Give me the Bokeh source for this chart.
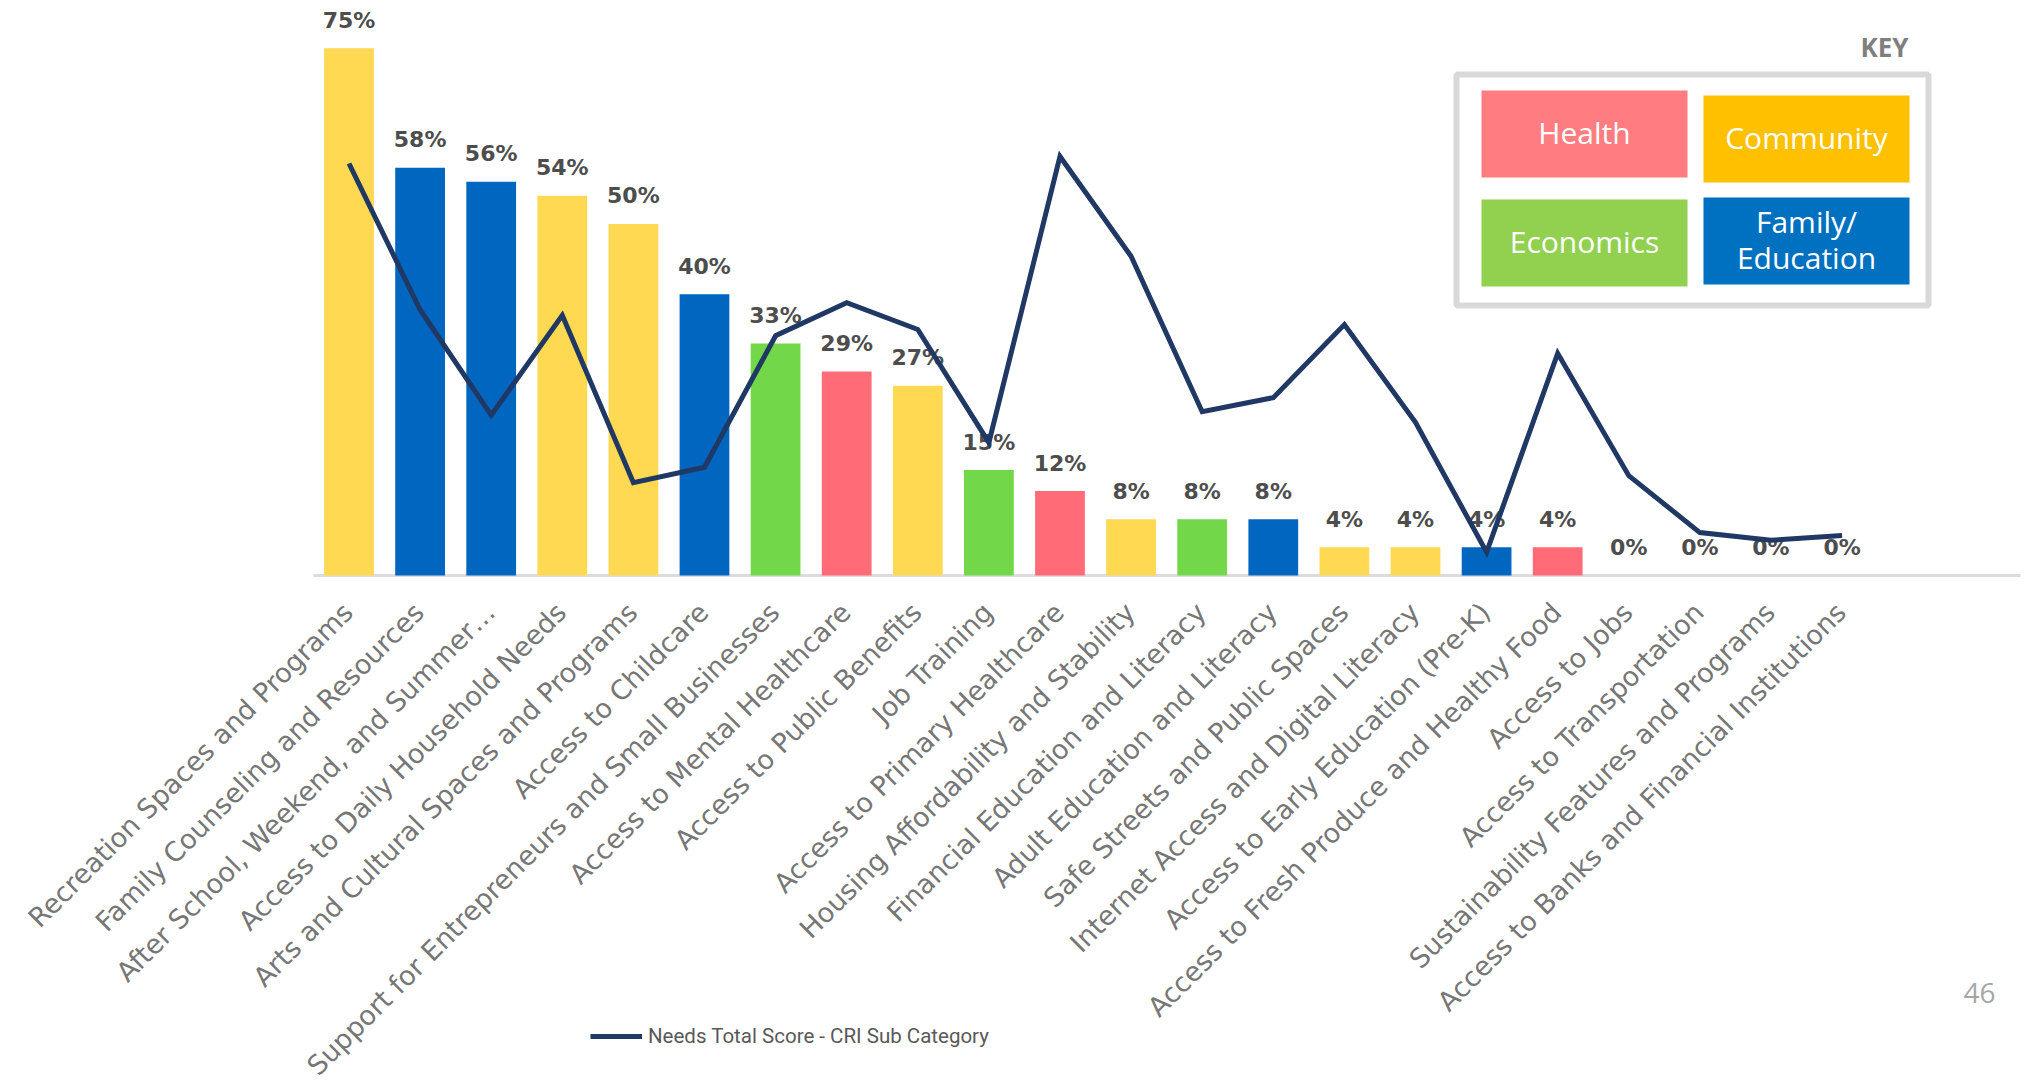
from math import pi
from bokeh.plotting import figure
from bokeh.models import (ColumnDataSource, Range1d, Label, BoxAnnotation,
                          Legend, LegendItem)
from bokeh.core.properties import value
from bokeh.embed import file_html
from bokeh.resources import INLINE

# ---------------- data ----------------
categories = [
    "Recreation Spaces and Programs",
    "Family Counseling and Resources",
    "After School, Weekend, and Summer\u2026",
    "Access to Daily Household Needs",
    "Arts and Cultural Spaces and Programs",
    "Access to Childcare",
    "Support for Entrepreneurs and Small Businesses",
    "Access to Mental Healthcare",
    "Access to Public Benefits",
    "Job Training",
    "Access to Primary Healthcare",
    "Housing Affordability and Stability",
    "Financial Education and Literacy",
    "Adult Education and Literacy",
    "Safe Streets and Public Spaces",
    "Internet Access and Digital Literacy",
    "Access to Early Education (Pre-K)",
    "Access to Fresh Produce and Healthy Food",
    "Access to Jobs",
    "Access to Transportation",
    "Sustainability Features and Programs",
    "Access to Banks and Financial Institutions",
]
groups = [
    "Community", "Family/Education", "Family/Education", "Community",
    "Community", "Family/Education", "Economics", "Health", "Community",
    "Economics", "Health", "Community", "Economics", "Family/Education",
    "Community", "Community", "Family/Education", "Health",
    "Economics", "Community", "Community", "Economics",
]
percent = [75, 58, 56, 54, 50, 40, 33, 29, 27, 15, 12, 8, 8, 8, 4, 4, 4, 4, 0, 0, 0, 0]
# Needs Total Score - CRI Sub Category (expressed on the chart's vertical scale)
needs_score = [58.6, 37.8, 22.8, 37.0, 13.2, 15.4, 34.1, 38.8, 35.0, 18.9, 59.6,
               45.4, 23.3, 25.3, 35.7, 21.8, 3.3, 31.6, 14.2, 6.1, 5.0, 5.7]

key_groups = ["Health", "Community", "Economics", "Family/Education"]
key_labels = {"Health": ["Health"], "Community": ["Community"],
              "Economics": ["Economics"], "Family/Education": ["Family/", "Education"]}
line_legend_label = "Needs Total Score - CRI Sub Category"
page_number = "46"

# ---------------- styles ----------------
bar_colors = {"Community": "#FFD952", "Family/Education": "#0066BF",
              "Economics": "#72D84A", "Health": "#FF6B76"}
key_colors = {"Health": "#FF7C80", "Community": "#FFC000",
              "Economics": "#92D050", "Family/Education": "#0070C0"}

W, H = 2028, 1085
positions = list(range(1, len(categories) + 1))
source = ColumnDataSource(dict(
    x=positions,
    name=categories,
    pct=percent,
    label=[f"{v}%" for v in percent],
    color=[bar_colors[g] for g in groups],
    score=needs_score,
    zero=[0] * len(positions),
))

p = figure(width=W, height=H, output_backend="svg", toolbar_location=None,
           x_range=Range1d(-3.9015, 24.622), y_range=Range1d(-72.55, 81.79),
           x_axis_location=None, y_axis_location=None,
           min_border_left=0, min_border_right=0, min_border_top=0,
           min_border_bottom=0)
p.outline_line_color = None
p.grid.visible = False
p.background_fill_color = "white"
p.border_fill_color = "white"

# category axis baseline
p.segment(x0=[0.5], y0=[0], x1=[24.51], y1=[0], line_color="#dcdcdc", line_width=3)

p.vbar(x="x", top="pct", width=0.7, fill_color="color", line_color=None,
       source=source)
p.text(x="x", y="pct", text="label", source=source, text_align="center",
       text_baseline="middle", y_offset=-28, text_font=value("DejaVu Sans"),
       text_font_style="bold", text_font_size="22px", text_color="#4d4d4d")
# category labels
p.text(x="x", y="zero", text="name", source=source, angle=pi / 4,
       text_align="right", text_baseline="middle", x_offset=-1, y_offset=32,
       text_font=value("DejaVu Sans"), text_font_size="27px",
       text_color="#767676")

line = p.line("x", "score", source=source, line_color="#203864", line_width=5,
              line_join="miter")

# ---------------- legend for line ----------------
legend = Legend(items=[LegendItem(label=line_legend_label, renderers=[line])],
                location=(590, 37), border_line_color=None,
                background_fill_alpha=0, padding=0, margin=0, spacing=0,
                glyph_width=52, glyph_height=20, label_standoff=6,
                label_text_font="Roboto",
                label_text_font_size="20.5px", label_text_color="#595959")
p.add_layout(legend)

# ---------------- KEY box ----------------
def sbox(l, r, b, t, **kw):
    return BoxAnnotation(left=l, right=r, bottom=b, top=t,
                         left_units="screen", right_units="screen",
                         top_units="screen", bottom_units="screen", **kw)

p.add_layout(sbox(1456, 1928, 780, 1011, fill_color="white", fill_alpha=1,
                  line_color="#808080", line_width=6))
key_boxes = {"Health": (1481, 1687, 908, 995),
             "Community": (1703, 1909, 903, 990),
             "Economics": (1481, 1687, 799, 886),
             "Family/Education": (1703, 1909, 801, 888)}
key_text_y = {"Health": [953.5], "Community": [948.5], "Economics": [844.5],
              "Family/Education": [864, 828]}
for g in key_groups:
    l, r, b, t = key_boxes[g]
    p.add_layout(sbox(l, r, b, t, fill_color=key_colors[g], fill_alpha=1,
                      line_color=None))
    for txt, sy in zip(key_labels[g], key_text_y[g]):
        p.add_layout(Label(x=(l + r) / 2, y=sy, x_units="screen", y_units="screen",
                           text=txt, text_align="center", text_baseline="middle",
                           text_font="Open Sans", text_font_size="30px",
                           text_color="white"))

p.add_layout(Label(x=1884, y=1038.5, x_units="screen", y_units="screen", text="KEY",
                   text_align="center", text_baseline="middle",
                   text_font="Open Sans", text_font_style="bold",
                   text_font_size="26px", text_color="#7f7f7f"))

p.add_layout(Label(x=1979, y=93, x_units="screen", y_units="screen",
                   text=page_number, text_align="center", text_baseline="middle",
                   text_font="Open Sans", text_font_size="28px",
                   text_color="#a6a6a6"))

open("out.html", "w").write(file_html(p, INLINE))
